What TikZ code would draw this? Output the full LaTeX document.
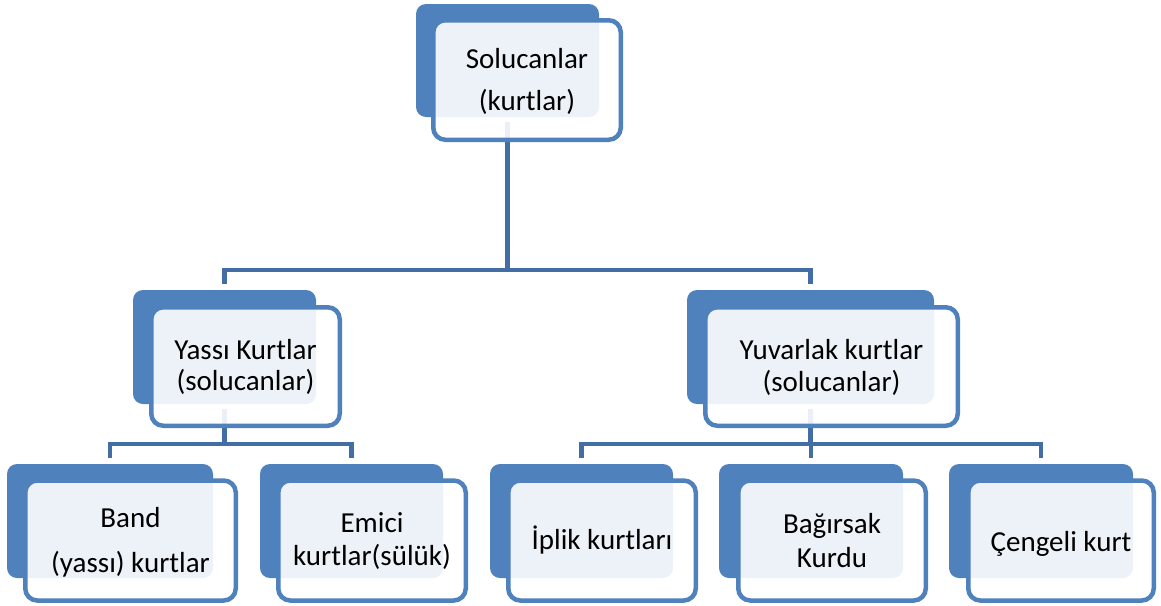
\documentclass[tikz,border=0pt]{standalone}
\usepackage{fontspec}
\setmainfont{Carlito}
\definecolor{accent}{RGB}{79,129,189}
\definecolor{connc}{RGB}{66,109,165}
\begin{document}
\begin{tikzpicture}[x=1pt,y=-1pt,
  backbox/.style={rectangle, fill=accent, draw=none, rounded corners=10pt, inner sep=0pt},
  frontbox/.style={rectangle, draw=accent, line width=4.5pt, fill=white, fill opacity=0.9, rounded corners=12pt, inner sep=0pt},
  conn/.style={draw=connc, line width=4.5pt},
  lbl/.style={anchor=base, inner sep=0pt, font=\fontsize{29}{35}\selectfont}]
\useasboundingbox (0,0) rectangle (1161,605);
\fill[white] (0,0) rectangle (1161,605);

% back boxes
\node[backbox, minimum width=183pt, minimum height=113pt] (topB) at (507.5,60.5) {};
\node[backbox, minimum width=183pt, minimum height=114pt] (yassiB) at (224.5,347) {};
\node[backbox, minimum width=247pt, minimum height=114pt] (yuvB) at (810.5,347) {};
\node[backbox, minimum width=206pt, minimum height=114pt] (bandB) at (110,521) {};
\node[backbox, minimum width=183pt, minimum height=114pt] (emiciB) at (351.5,521) {};
\node[backbox, minimum width=183pt, minimum height=114pt] (iplikB) at (581.5,521) {};
\node[backbox, minimum width=184pt, minimum height=114pt] (bagB) at (811,521) {};
\node[backbox, minimum width=184pt, minimum height=114pt] (cengB) at (1041,521) {};

% connectors
\coordinate (h1) at (0,270);
\coordinate (h2) at (0,444);
\draw[conn] ([yshift=-5pt]topB.south) -- (topB.south |- h1);
\draw[conn] ([yshift=6pt]yassiB.north) -- (yassiB.north |- h1) -- (yuvB.north |- h1) -- ([yshift=6pt]yuvB.north);
\draw[conn] ([yshift=-5pt]yassiB.south) -- (yassiB.south |- h2);
\draw[conn] ([yshift=6pt]bandB.north) -- (bandB.north |- h2) -- (emiciB.north |- h2) -- ([yshift=6pt]emiciB.north);
\draw[conn] ([yshift=-5pt]yuvB.south) -- (yuvB.south |- h2);
\draw[conn] ([yshift=6pt]iplikB.north) -- (iplikB.north |- h2) -- (cengB.north |- h2) -- ([yshift=6pt]cengB.north);
\draw[conn] (bagB.north |- h2) -- ([yshift=6pt]bagB.north);

% front boxes
\node[frontbox, minimum width=187.5pt, minimum height=119.5pt] (topF) at (527,80) {};
\node[frontbox, minimum width=188.5pt, minimum height=118.5pt] (yassiF) at (245.5,366.5) {};
\node[frontbox, minimum width=252.5pt, minimum height=118.5pt] (yuvF) at (831.5,366.5) {};
\node[frontbox, minimum width=210.5pt, minimum height=120pt] (bandF) at (130.5,540.5) {};
\node[frontbox, minimum width=187.5pt, minimum height=120pt] (emiciF) at (372,540.5) {};
\node[frontbox, minimum width=187.5pt, minimum height=120pt] (iplikF) at (602,540.5) {};
\node[frontbox, minimum width=187.5pt, minimum height=120pt] (bagF) at (832,540.5) {};
\node[frontbox, minimum width=185.5pt, minimum height=120pt] (cengF) at (1061,540.5) {};

% labels
\node[lbl] (t1a) at (527,68) {Solucanlar};
\node[lbl] (t1b) at (527,110) {(kurtlar)};
\node[lbl] (t2a) at (245.5,359) {Yassı Kurtlar};
\node[lbl] (t2b) at (245.5,390) {(solucanlar)};
\node[lbl] (t3a) at (831.5,359) {Yuvarlak kurtlar};
\node[lbl] (t3b) at (831.5,391) {(solucanlar)};
\node[lbl] (t4a) at (130.5,527) {Band};
\node[lbl] (t4b) at (130.5,572) {(yassı) kurtlar};
\node[lbl] (t5a) at (372,532) {Emici};
\node[lbl] (t5b) at (372,565) {kurtlar(sülük)};
\node[lbl] (t6) at (602,549) {İplik kurtları};
\node[lbl] (t7a) at (832,533) {Bağırsak};
\node[lbl] (t7b) at (832,567) {Kurdu};
\node[lbl] (t8) at (1061,551) {Çengeli kurt};
\end{tikzpicture}
\end{document}
